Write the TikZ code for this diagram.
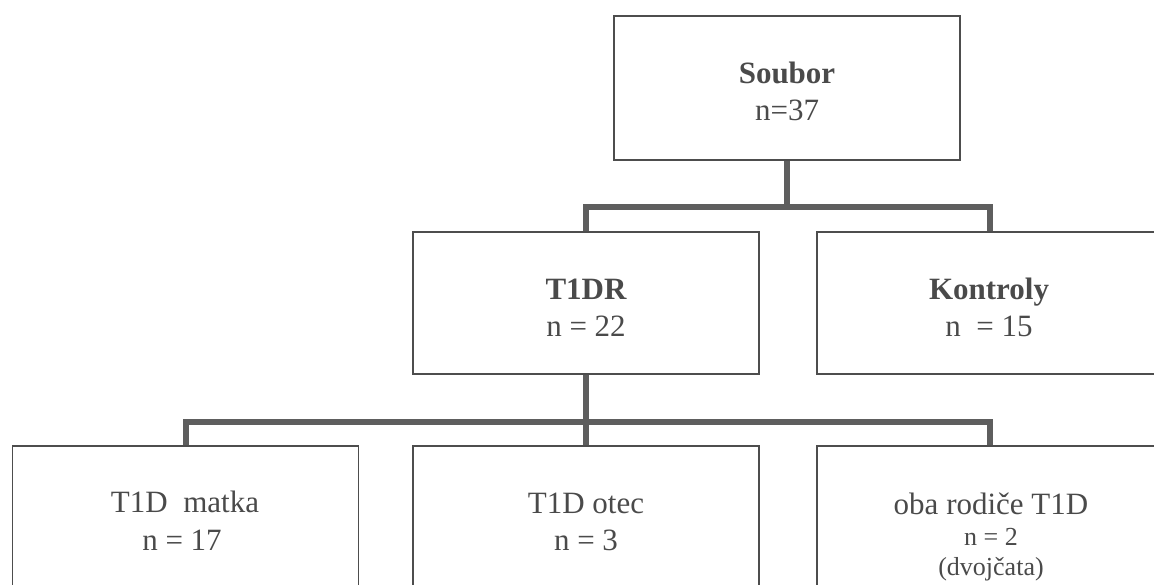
\documentclass[tikz,border=0pt]{standalone}
\usepackage{fontspec}
\setmainfont{Liberation Serif}
\definecolor{boxline}{HTML}{4D4D4D}
\definecolor{conn}{HTML}{5E5E5E}
\definecolor{txt}{HTML}{4A4A4A}
\tikzset{
  box/.style={draw=boxline, line width=1.8pt, fill=none, minimum width=346pt, inner sep=0pt},
  connector/.style={draw=conn, line width=6pt},
  lbl/.style={anchor=base, inner sep=0pt, text=txt, font=\fontsize{31}{37}\selectfont},
  lblb/.style={lbl, font=\fontsize{31}{37}\selectfont\bfseries},
  lbls/.style={lbl, font=\fontsize{26}{30}\selectfont},
}
\begin{document}
\begin{tikzpicture}[x=1pt,y=-1pt]
\useasboundingbox (0,0) rectangle (1154,584);
\clip (0,0) rectangle (1154,584);
% boxes
\node[box, minimum height=144pt] (soubor) at (787,88) {};
\node[box, minimum height=142pt] (t1dr) at (586,303) {};
\node[box, minimum height=142pt] (kontroly) at (990,303) {};
\node[box, minimum height=200pt] (matka) at (185.5,546) {};
\node[box, minimum height=200pt] (otec) at (586,546) {};
\node[box, minimum height=200pt] (oba) at (990,546) {};
% connectors
\coordinate (j1) at (787,207);
\coordinate (j2) at (586,422);
\draw[connector] (soubor.south) -- (j1);
\draw[connector] (t1dr.north) |- (j1) -| (kontroly.north);
\draw[connector] (t1dr.south) -- (otec.north);
\draw[connector] (matka.north) |- (j2) -| (oba.north);
% texts
\node[lblb] (s1) at (787,83) {Soubor};
\node[lbl]  (s2) at (787,120) {n=37};
\node[lblb] (r1) at (586,299) {T1DR};
\node[lbl]  (r2) at (586,336) {n = 22};
\node[lblb] (k1) at (989,299) {Kontroly};
\node[lbl]  (k2) at (989,336) {n\ \ = 15};
\node[lbl]  (m1) at (185,512) {T1D\ \ matka};
\node[lbl]  (m2) at (182,550) {n = 17};
\node[lbl]  (o1) at (586,513) {T1D otec};
\node[lbl]  (o2) at (586,550) {n = 3};
\node[lbl]  (b1) at (991,514) {oba rodiče T1D};
\node[lbls] (b2) at (991,545) {n = 2};
\node[lbls] (b3) at (991,575) {(dvojčata)};
\end{tikzpicture}
\end{document}
